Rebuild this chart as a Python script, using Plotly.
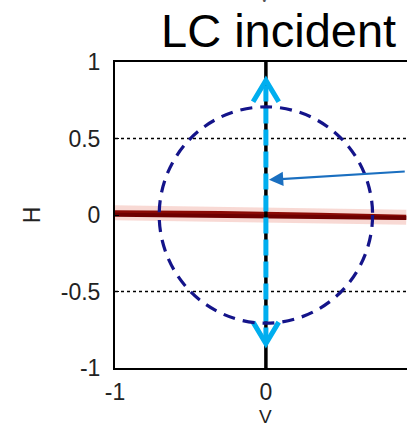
import plotly.graph_objects as go

# Axis ticks
x_ticks = [-1, 0]
x_tick_labels = ["-1", "0"]
y_ticks = [-1, -0.5, 0, 0.5, 1]
y_tick_labels = ["-1", "-0.5", "0", "0.5", "1"]

# Polarization components
circle_radius = 0.707                 # circular polarization reference
lc_band_x = [-1.0, -0.3, 0.35, 0.93]  # nearly flat (linear-H) trace
lc_band_y = [0.014, 0.01, -0.002, -0.014]
lc_band_y2 = [0.002, -0.008, -0.012, -0.02]
v_axis_x = [0, 0]
v_axis_y = [-1, 1]
v_field_x = [0, 0]
v_field_y = [-0.84, 0.88]
head_top_x = [-0.085, 0, 0.085]
head_top_y = [0.74, 0.88, 0.74]
head_bot_x = [-0.085, 0, 0.085]
head_bot_y = [-0.7, -0.84, -0.7]
grid_levels = [0.5, -0.5]

W, H = 407, 429
ML, MR, MT, MB = 115, 0, 62, 61
PW, PH = W - ML - MR, H - MT - MB

TICK_FONT = dict(family="Liberation Sans Narrow, Arial Narrow, sans-serif",
                 size=23, color="#222222")

fig = go.Figure()

for g in grid_levels:
    fig.add_trace(go.Scatter(x=[-1, 0.93], y=[g, g], mode="lines",
                             line=dict(color="black", width=1.3, dash="dot"),
                             hoverinfo="skip"))

# halo + dark red band
fig.add_trace(go.Scatter(x=lc_band_x, y=lc_band_y, mode="lines",
                         line=dict(color="rgba(240,170,160,0.45)", width=15),
                         hoverinfo="skip"))
fig.add_trace(go.Scatter(x=lc_band_x, y=lc_band_y, mode="lines",
                         line=dict(color="#8a0a05", width=5), hoverinfo="skip"))
fig.add_trace(go.Scatter(x=lc_band_x, y=lc_band_y2, mode="lines",
                         line=dict(color="#6e0000", width=4), hoverinfo="skip"))

# black vertical axis line
fig.add_trace(go.Scatter(x=v_axis_x, y=v_axis_y, mode="lines",
                         line=dict(color="black", width=3.5), hoverinfo="skip"))

# cyan dashed field vector with open arrowheads
fig.add_trace(go.Scatter(x=v_field_x, y=v_field_y, mode="lines",
                         line=dict(color="#00aeef", width=5, dash="16px,6px"),
                         hoverinfo="skip"))
for hx, hy in ((head_top_x, head_top_y), (head_bot_x, head_bot_y)):
    fig.add_trace(go.Scatter(x=hx, y=hy, mode="lines",
                             line=dict(color="#00aeef", width=5),
                             hoverinfo="skip"))

fig.add_shape(type="circle", xref="x", yref="y",
              x0=-circle_radius, x1=circle_radius,
              y0=-circle_radius, y1=circle_radius,
              line=dict(color="#14148a", width=3.2, dash="12px,8px"))

fig.add_annotation(x=0.02, y=0.23, ax=0.93, ay=0.285, xref="x", yref="y",
                   axref="x", ayref="y", text="", showarrow=True,
                   arrowhead=2, arrowsize=1.3, arrowwidth=2.2,
                   arrowcolor="#1a6fc0")

# title, positioned by pixel offsets from the plot area
fig.add_annotation(text="LC incident", showarrow=False,
                   xref="paper", yref="paper",
                   x=(278 - ML) / PW, y=1 + (MT - 31) / PH,
                   xanchor="center", yanchor="middle",
                   font=dict(family="Liberation Sans, Arial", size=47, color="black"))

# axis label of the panel above, cut off at the top edge
fig.add_annotation(text="V", showarrow=False, xref="paper", yref="paper",
                   x=(264 - ML) / PW, y=1 + (MT - 7) / PH,
                   xanchor="center", yanchor="bottom",
                   font=dict(family=TICK_FONT["family"], size=16, color="#555555"))

# x-axis label, sitting on the bottom edge below the tick labels
fig.add_annotation(text="V", showarrow=False, xref="x", yref="paper",
                   x=0, y=-MB / PH,
                   xanchor="center", yanchor="bottom",
                   font=dict(family=TICK_FONT["family"], size=19,
                             color=TICK_FONT["color"]))

fig.update_layout(
    width=W, height=H,
    margin=dict(l=ML, r=MR, t=MT, b=MB),
    paper_bgcolor="white", plot_bgcolor="white",
    showlegend=False,
    font=TICK_FONT,
    xaxis=dict(range=[-1, 0.935], tickvals=x_ticks, ticktext=x_tick_labels,
               showgrid=False, zeroline=False, showline=True, mirror=True,
               linecolor="black", linewidth=2, ticks="inside", ticklen=4,
               tickcolor="black", ticklabelstandoff=2, tickfont=TICK_FONT,
               automargin=False),
    yaxis=dict(range=[-1, 1], tickvals=y_ticks, ticktext=y_tick_labels,
               showgrid=False, zeroline=False, showline=True, mirror=False,
               linecolor="black", linewidth=2, ticks="inside", ticklen=4,
               tickcolor="black", ticklabelstandoff=8, tickfont=TICK_FONT,
               automargin=False,
               title=dict(text="H", standoff=14, font=TICK_FONT)),
)

fig.write_html("out.html")
